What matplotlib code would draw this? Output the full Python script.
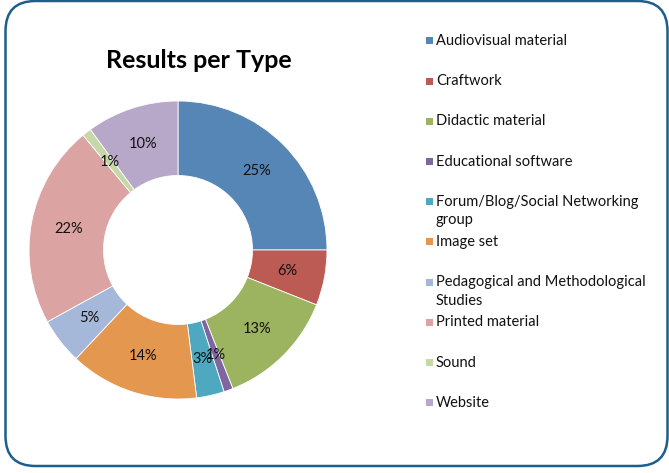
import matplotlib
matplotlib.use("Agg")
import matplotlib.pyplot as plt
from matplotlib.patches import FancyBboxPatch, Rectangle

plt.rcParams["font.family"] = ["Lato", "DejaVu Sans"]

categories = [
    "Audiovisual material",
    "Craftwork",
    "Didactic material",
    "Educational software",
    "Forum/Blog/Social Networking\ngroup",
    "Image set",
    "Pedagogical and Methodological\nStudies",
    "Printed material",
    "Sound",
    "Website",
]
shares = [25, 6, 13, 1, 3, 14, 5, 22, 1, 10]
colors = [
    "#5686B6", "#BC5B53", "#9CB35F", "#8066A0", "#4DA8C0",
    "#E3974F", "#A5B8DA", "#DBA4A2", "#C7D8A8", "#B7A8C9",
]

W, H, DPI = 669, 473, 100
fig = plt.figure(figsize=(W / DPI, H / DPI), dpi=DPI)
fig.patch.set_facecolor("white")

# rounded frame, drawn in inches so the corners stay circular
frame = FancyBboxPatch(
    (5.5 / DPI + 0.3, 7 / DPI + 0.3), (662 / DPI) - 0.6, (465 / DPI) - 0.6,
    boxstyle="round,pad=0.3",
    transform=fig.dpi_scale_trans,
    facecolor="none", edgecolor="#1D5E8C", linewidth=1.8, zorder=-1,
)
fig.patches.append(frame)

# donut
cx, cy, r = 178, 250, 149
ax = fig.add_axes([(cx - r) / W, (H - cy - r) / H, 2 * r / W, 2 * r / H])
wedges, _, autotexts = ax.pie(
    shares,
    colors=colors,
    startangle=90,
    counterclock=False,
    radius=1.0,
    autopct="%1.0f%%",
    pctdistance=0.75,
    wedgeprops=dict(width=0.5, edgecolor="white", linewidth=0.6),
    textprops=dict(fontsize=10.5, color="#111111"),
)
ax.set_xlim(-1, 1)
ax.set_ylim(-1, 1)
ax.set_aspect("equal")
ax.axis("off")

fig.text(199 / W, 1 - 61 / H, "Results per Type", ha="center", va="center",
         fontsize=18, fontweight="bold", color="black")

# legend, one row every ~40 px
for i, (name, col) in enumerate(zip(categories, colors)):
    y = 41 + 40.2 * i
    fig.patches.append(Rectangle(
        (426 / W, 1 - (y + 3.5) / H), 7 / W, 7 / H,
        transform=fig.transFigure, facecolor=col, edgecolor="none"))
    fig.text(436 / W, 1 - (y - 7) / H, name, ha="left", va="top",
             fontsize=10.5, color="#111111", linespacing=1.4)

fig.savefig("out.png", dpi=DPI)
